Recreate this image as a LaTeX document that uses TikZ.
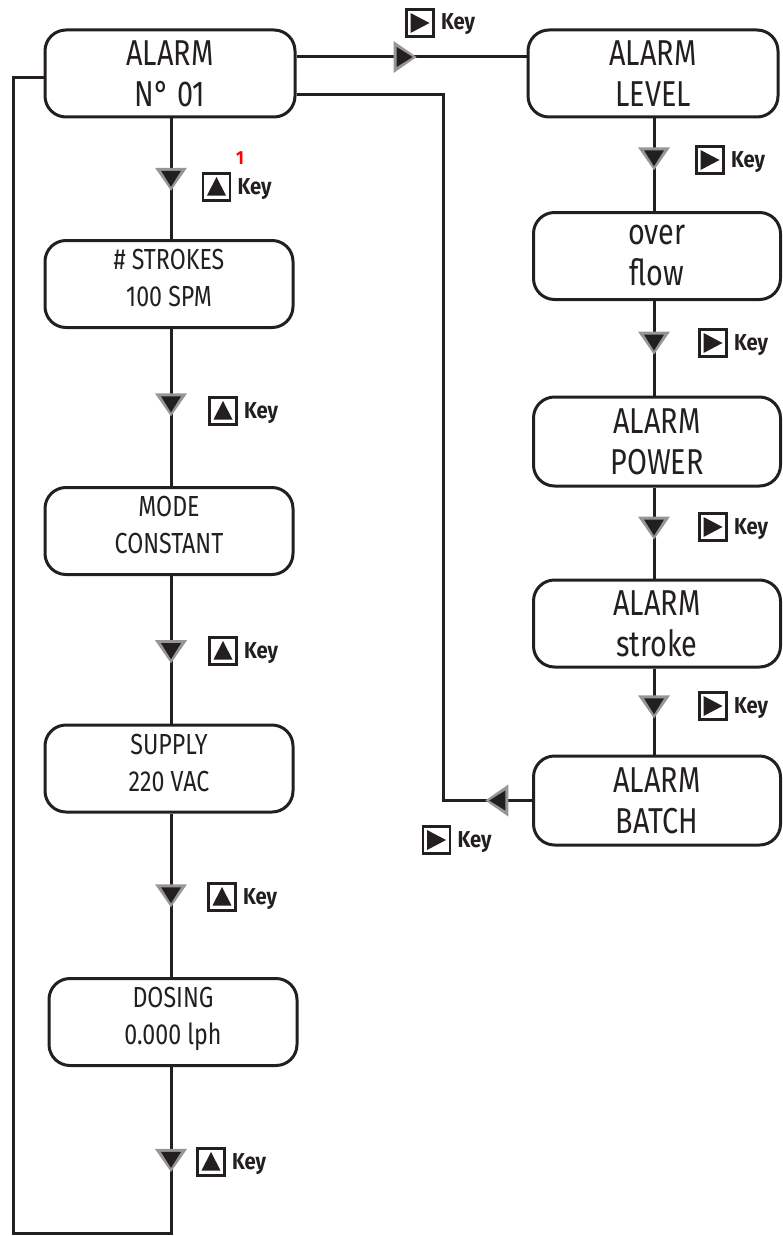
\documentclass[tikz,border=0pt]{standalone}
\usepackage{fontspec}
\setmainfont{Fira Sans}
\newfontfamily\boxfont{Fira Sans}[FakeStretch=0.8]
\newfontfamily\keyfont{Fira Sans}[FakeStretch=0.88]
\definecolor{ink}{RGB}{35,31,32}
\definecolor{mkgray}{RGB}{150,150,150}
\tikzset{
  box/.style={draw=ink, line width=3pt, rounded corners=21pt, minimum width=250pt,
    minimum height=87pt, align=center, text=ink, inner sep=0pt},
  bigtxt/.style={font=\boxfont\fontsize{36}{41}\selectfont},
  smalltxt/.style={font=\boxfont\fontsize{29}{37}\selectfont, text depth=12pt},
  conn/.style={draw=ink, line width=3pt},
  keyicon/.style={draw=ink, line width=2.8pt, minimum size=27pt, inner sep=0pt},
  keyup/.style={keyicon, path picture={\fill[ink] (path picture bounding box.center)
      ++(0,-10) -- ++(9.5,18.5) -- ++(-19,0) -- cycle;}},
  keyright/.style={keyicon, path picture={\fill[ink] (path picture bounding box.center)
      ++(9.5,0) -- ++(-19,-10) -- ++(0,20) -- cycle;}},
  keytxt/.style={font=\keyfont\bfseries\fontsize{23}{25}\selectfont, text=ink, inner sep=0pt, anchor=base west},
  mk/.pic={
    \fill[mkgray] (12,0) -- (-11,-16) -- (-11,16) -- cycle;
    \fill[ink] (8,0) -- (-8,-10) -- (-8,10) -- cycle;
  },
  mkstyle/.style={sloped, allow upside down},
}
\begin{document}
\begin{tikzpicture}[x=1pt, y=-1pt]
\useasboundingbox (0,0) rectangle (782,1236);

% left column boxes
\node[box, bigtxt] (b1) at (170,73.5) {ALARM\\N° 01};
\node[box, smalltxt, minimum width=248pt] (b2) at (169,284) {\# STROKES\\100 SPM};
\node[box, smalltxt, minimum width=248pt] (b3) at (169,531) {MODE\\CONSTANT};
\node[box, smalltxt, minimum width=248pt] (b4) at (169,768.5) {SUPPLY\\220 VAC};
\node[box, smalltxt, minimum width=248pt] (b5) at (173,1022) {DOSING\\0.000 lph};

% right column boxes
\node[box, bigtxt] (r1) at (653,73.5) {ALARM\\LEVEL};
\node[box, bigtxt, minimum width=247pt] (r2) at (657,256) {over\\flow};
\node[box, bigtxt, minimum width=247pt, minimum height=89pt] (r3) at (657,441.5) {ALARM\\POWER};
\node[box, bigtxt, minimum width=247pt] (r4) at (657,623.5) {ALARM\\stroke};
\node[box, bigtxt, minimum width=247pt, minimum height=89pt] (r5) at (657,800.5) {ALARM\\BATCH};

% helper coordinates
\coordinate (lx) at (171,0);
\coordinate (rx) at (654,0);
\coordinate (ytop) at (0,57);
\coordinate (ysec) at (0,95);
\coordinate (vx) at (443,0);
\coordinate (bot) at (171,1233);
\coordinate (lft) at (13,1233);
\coordinate (lup) at (13,78);

% left column connectors
\draw[conn] (b1.south -| lx) -- (b2.north -| lx) pic[pos=0.5, mkstyle]{mk};
\draw[conn] (b2.south -| lx) -- (b3.north -| lx) pic[pos=0.48, mkstyle]{mk};
\draw[conn] (b3.south -| lx) -- (b4.north -| lx) pic[pos=0.51, mkstyle]{mk};
\draw[conn] (b4.south -| lx) -- (b5.north -| lx) pic[pos=0.5, mkstyle]{mk};
\draw[conn] (b5.south -| lx) -- (bot) -- (lft) -- (lup) -- (b1.west |- lup);
\path (b5.south -| lx) -- (bot) pic[pos=0.56, mkstyle]{mk};

% right column connectors
\draw[conn] (r1.south -| rx) -- (r2.north -| rx) pic[pos=0.43, mkstyle]{mk};
\draw[conn] (r2.south -| rx) -- (r3.north -| rx) pic[pos=0.44, mkstyle]{mk};
\draw[conn] (r3.south -| rx) -- (r4.north -| rx) pic[pos=0.44, mkstyle]{mk};
\draw[conn] (r4.south -| rx) -- (r5.north -| rx) pic[pos=0.44, mkstyle]{mk};

% horizontal connectors
\draw[conn] (b1.east |- ytop) -- (r1.west |- ytop) pic[pos=0.47, mkstyle]{mk};
\draw[conn] (r5.west) -- (vx |- r5.west) -- (vx |- ysec) -- (b1.east |- ysec);
\path (r5.west) -- (vx |- r5.west) pic[pos=0.39, mkstyle]{mk};

% key labels
\node[keyup] (k1) at (216.5,187) {};
\node[keytxt] (t1) at ([xshift=6pt,yshift=-7pt]k1.east) {Key};
\node[font=\keyfont\bfseries\fontsize{19}{20}\selectfont, text=red, inner sep=0pt] (n1) at (240,158) {1};
\node[keyup] (k2) at (223,411) {};
\node[keytxt] (t2) at ([xshift=6pt,yshift=-7pt]k2.east) {Key};
\node[keyup] (k3) at (223,651) {};
\node[keytxt] (t3) at ([xshift=6pt,yshift=-7pt]k3.east) {Key};
\node[keyup] (k4) at (222,897) {};
\node[keytxt] (t4) at ([xshift=6pt,yshift=-7pt]k4.east) {Key};
\node[keyup] (k5) at (211,1162) {};
\node[keytxt] (t5) at ([xshift=6pt,yshift=-7pt]k5.east) {Key};

\node[keyright] (rk0) at (420,23) {};
\node[keytxt] (rt0) at ([xshift=6pt,yshift=-7pt]rk0.east) {Key};
\node[keyright] (rk1) at (710,160) {};
\node[keytxt] (rt1) at ([xshift=6pt,yshift=-7pt]rk1.east) {Key};
\node[keyright] (rk2) at (713,343) {};
\node[keytxt] (rt2) at ([xshift=6pt,yshift=-7pt]rk2.east) {Key};
\node[keyright] (rk3) at (713,527) {};
\node[keytxt] (rt3) at ([xshift=6pt,yshift=-7pt]rk3.east) {Key};
\node[keyright] (rk4) at (713,706) {};
\node[keytxt] (rt4) at ([xshift=6pt,yshift=-7pt]rk4.east) {Key};
\node[keyright] (rk5) at (436.5,840) {};
\node[keytxt] (rt5) at ([xshift=6pt,yshift=-7pt]rk5.east) {Key};
\end{tikzpicture}
\end{document}
